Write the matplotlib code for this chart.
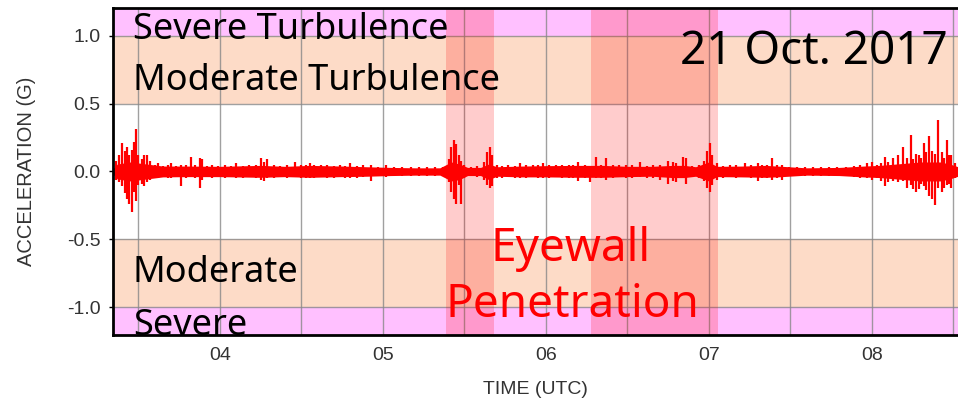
import matplotlib
matplotlib.use("Agg")
from matplotlib import pyplot as plt
from matplotlib.ticker import MultipleLocator, FuncFormatter

# time axis (hours UTC), acceleration in G
x_range = (3.344, 8.53)
y_range = (-1.205, 1.205)

# turbulence bands (G)
severe_band = 1.0
moderate_band = 0.5

# eyewall penetrations (hours UTC)
eyewall_start = [5.39, 6.28]
eyewall_end = [5.68, 7.06]

# dense core of the trace: time, upper and lower edge
core_t = [3.344, 3.37, 3.45, 3.55, 3.65, 3.8, 4.0, 4.25, 4.4, 4.55, 4.75, 4.9,
          5.05, 5.2, 5.35, 5.42, 5.47, 5.52, 5.6, 5.65, 5.7, 5.85, 6.0, 6.2,
          6.35, 6.5, 6.65, 6.78, 6.85, 6.92, 7.0, 7.05, 7.2, 7.35, 7.45, 7.6,
          7.8, 7.95, 8.05, 8.15, 8.3, 8.42, 8.48, 8.53]
core_hi = [0.02, 0.055, 0.07, 0.055, 0.04, 0.04, 0.038, 0.045, 0.038, 0.045, 0.04, 0.035,
           0.03, 0.027, 0.027, 0.07, 0.055, 0.03, 0.03, 0.055, 0.035, 0.04, 0.043, 0.045,
           0.045, 0.038, 0.038, 0.045, 0.045, 0.035, 0.07, 0.038, 0.04, 0.045, 0.038, 0.027,
           0.03, 0.04, 0.045, 0.055, 0.07, 0.07, 0.055, 0.035]
core_lo = [-0.02, -0.055, -0.07, -0.055, -0.04, -0.038, -0.038, -0.043, -0.038, -0.043, -0.038, -0.035,
           -0.03, -0.027, -0.027, -0.07, -0.06, -0.03, -0.03, -0.06, -0.035, -0.04, -0.04, -0.043,
           -0.043, -0.038, -0.035, -0.045, -0.045, -0.035, -0.07, -0.038, -0.04, -0.043, -0.038, -0.027,
           -0.03, -0.04, -0.045, -0.055, -0.07, -0.07, -0.055, -0.035]

# individual excursions: time, peak up, peak down
spike_t = [3.36, 3.38, 3.40, 3.415, 3.43, 3.445, 3.46, 3.475, 3.485, 3.50, 3.52, 3.535,
           3.55, 3.57, 3.60, 3.62, 3.65, 3.68, 3.70, 3.73, 3.76, 3.79, 3.82, 3.85,
           3.875, 3.89, 3.92, 3.95, 3.99, 4.03, 4.07, 4.1, 4.14, 4.18, 4.22, 4.25,
           4.27, 4.29, 4.33, 4.37, 4.41, 4.46, 4.5, 4.53, 4.55, 4.58, 4.62, 4.66,
           4.7, 4.74, 4.77, 4.80, 4.84, 4.88, 4.93, 4.97, 5.02, 5.07, 5.12, 5.17,
           5.22, 5.27, 5.32, 5.37, 5.405, 5.42, 5.435, 5.45, 5.465, 5.48, 5.5, 5.54,
           5.58, 5.62, 5.64, 5.655, 5.67, 5.7, 5.73, 5.77, 5.81, 5.84, 5.88, 5.92,
           5.95, 5.98, 6.02, 6.06, 6.1, 6.14, 6.17, 6.20, 6.24, 6.27, 6.31, 6.34,
           6.37, 6.41, 6.45, 6.49, 6.53, 6.58, 6.62, 6.66, 6.7, 6.75, 6.78, 6.80,
           6.84, 6.86, 6.9, 6.94, 6.97, 6.99, 7.005, 7.02, 7.05, 7.09, 7.13, 7.17,
           7.22, 7.26, 7.30, 7.33, 7.36, 7.39, 7.42, 7.45, 7.49, 7.54, 7.59, 7.64,
           7.69, 7.74, 7.79, 7.84, 7.89, 7.93, 7.97, 8.0, 8.03, 8.06, 8.08, 8.1,
           8.13, 8.16, 8.19, 8.215, 8.24, 8.255, 8.27, 8.29, 8.305, 8.32, 8.335, 8.35,
           8.37, 8.39, 8.41, 8.43, 8.445, 8.46, 8.475, 8.49, 8.51]
spike_hi = [0.08, 0.12, 0.21, 0.15, 0.18, 0.12, 0.16, 0.22, 0.31, 0.12, 0.09, 0.125,
            0.12, 0.08, 0.05, 0.06, 0.04, 0.05, 0.06, 0.04, 0.05, 0.05, 0.11, 0.045,
            0.10, 0.09, 0.04, 0.05, 0.04, 0.045, 0.04, 0.06, 0.04, 0.05, 0.045, 0.10,
            0.07, 0.09, 0.045, 0.04, 0.05, 0.07, 0.045, 0.05, 0.06, 0.05, 0.045, 0.05,
            0.04, 0.045, 0.04, 0.06, 0.04, 0.045, 0.05, 0.035, 0.05, 0.035, 0.03, 0.035,
            0.03, 0.035, 0.03, 0.035, 0.09, 0.18, 0.235, 0.20, 0.12, 0.08, 0.05, 0.035,
            0.04, 0.07, 0.14, 0.18, 0.12, 0.05, 0.04, 0.045, 0.04, 0.06, 0.045, 0.05,
            0.045, 0.06, 0.05, 0.045, 0.05, 0.045, 0.05, 0.07, 0.05, 0.04, 0.11, 0.05,
            0.10, 0.045, 0.05, 0.045, 0.05, 0.07, 0.04, 0.045, 0.05, 0.08, 0.07, 0.06,
            0.11, 0.10, 0.04, 0.045, 0.08, 0.15, 0.21, 0.12, 0.06, 0.04, 0.045, 0.045,
            0.06, 0.045, 0.06, 0.05, 0.05, 0.10, 0.05, 0.05, 0.035, 0.035, 0.03, 0.035,
            0.03, 0.035, 0.03, 0.035, 0.04, 0.045, 0.06, 0.07, 0.05, 0.06, 0.11, 0.07,
            0.10, 0.12, 0.18, 0.10, 0.27, 0.09, 0.13, 0.12, 0.10, 0.21, 0.14, 0.26,
            0.15, 0.13, 0.38, 0.14, 0.10, 0.23, 0.12, 0.12, 0.06]
spike_lo = [-0.06, -0.08, -0.11, -0.16, -0.20, -0.24, -0.30, -0.15, -0.22, -0.10, -0.09, -0.11,
            -0.08, -0.06, -0.045, -0.05, -0.04, -0.045, -0.05, -0.04, -0.11, -0.045, -0.04, -0.05,
            -0.12, -0.06, -0.04, -0.05, -0.04, -0.045, -0.04, -0.05, -0.045, -0.04, -0.05, -0.06,
            -0.07, -0.05, -0.045, -0.04, -0.045, -0.04, -0.05, -0.045, -0.05, -0.045, -0.04, -0.05,
            -0.045, -0.04, -0.045, -0.05, -0.045, -0.04, -0.07, -0.035, -0.04, -0.035, -0.03, -0.035,
            -0.03, -0.035, -0.03, -0.035, -0.08, -0.15, -0.20, -0.24, -0.10, -0.24, -0.05, -0.035,
            -0.04, -0.06, -0.10, -0.12, -0.11, -0.05, -0.045, -0.04, -0.045, -0.05, -0.045, -0.04,
            -0.05, -0.05, -0.045, -0.04, -0.045, -0.05, -0.045, -0.07, -0.045, -0.08, -0.05, -0.045,
            -0.06, -0.045, -0.04, -0.045, -0.05, -0.04, -0.045, -0.05, -0.06, -0.09, -0.07, -0.08,
            -0.05, -0.09, -0.04, -0.045, -0.07, -0.12, -0.15, -0.10, -0.06, -0.045, -0.04, -0.045,
            -0.04, -0.05, -0.07, -0.045, -0.05, -0.06, -0.045, -0.06, -0.035, -0.03, -0.035, -0.03,
            -0.035, -0.03, -0.035, -0.035, -0.04, -0.05, -0.05, -0.06, -0.05, -0.07, -0.11, -0.08,
            -0.07, -0.08, -0.07, -0.12, -0.10, -0.13, -0.15, -0.13, -0.09, -0.11, -0.14, -0.18,
            -0.20, -0.25, -0.12, -0.15, -0.12, -0.10, -0.09, -0.12, -0.05]

label_font = 'Liberation Sans'
note_font = 'Noto Sans'

fig = plt.figure(figsize=(9.58, 4.01), dpi=100)
ax = fig.add_axes([0.118, 0.1646, 0.882, 0.8155])

# turbulence bands
ax.axhspan(severe_band, y_range[1], color='#ffc0ff', lw=0, zorder=0.2)
ax.axhspan(y_range[0], -severe_band, color='#ffc0ff', lw=0, zorder=0.2)
ax.axhspan(moderate_band, severe_band, color='#fddbc7', lw=0, zorder=0.2)
ax.axhspan(-severe_band, -moderate_band, color='#fddbc7', lw=0, zorder=0.2)

# eyewall shading
for s, e in zip(eyewall_start, eyewall_end):
    ax.axvspan(s, e, color='red', alpha=0.2, lw=0, zorder=0.8)

# acceleration trace
ax.fill_between(core_t, core_lo, core_hi, color='red', lw=0, zorder=2)
ax.vlines(spike_t, spike_lo, spike_hi, color='red', lw=1.6, zorder=2)

ax.set_xlim(*x_range)
ax.set_ylim(*y_range)
ax.xaxis.set_major_locator(MultipleLocator(1))
ax.xaxis.set_minor_locator(MultipleLocator(0.5))
ax.yaxis.set_major_locator(MultipleLocator(0.5))
ax.xaxis.set_major_formatter(FuncFormatter(lambda v, p: '%02d' % round(v)))
ax.yaxis.set_major_formatter(FuncFormatter(lambda v, p: '%.1f' % v))
ax.set_axisbelow(True)
ax.grid(which='both', axis='x', color='#888888', lw=1.0, alpha=0.8)
ax.grid(which='major', axis='y', color='#888888', lw=1.0, alpha=0.8)

for side in ['left', 'bottom', 'top']:
    ax.spines[side].set_linewidth(2)
ax.spines['right'].set_visible(False)
ax.tick_params(axis='x', which='both', length=0, pad=9, labelsize=14, labelcolor='#333333')
ax.tick_params(axis='y', length=3, width=1, pad=6, labelsize=14, labelcolor='#333333')
for lbl in ax.get_xticklabels() + ax.get_yticklabels():
    lbl.set_fontfamily(label_font)

ax.set_xlabel('TIME (UTC)', fontsize=14, color='#333333', family=label_font, labelpad=12)
ax.set_ylabel('ACCELERATION (G)', fontsize=14.5, color='#333333', family=label_font, labelpad=22)

# annotations
ax.text(3.466, 0.978, 'Severe Turbulence', fontsize=26, family=note_font, va='baseline', zorder=3)
ax.text(3.466, 0.603, 'Moderate Turbulence', fontsize=26, family=note_font, va='baseline', zorder=3)
ax.text(3.466, -0.816, 'Moderate', fontsize=26, family=note_font, va='baseline', zorder=3)
ax.text(3.466, -1.206, 'Severe', fontsize=26, family=note_font, va='baseline', zorder=3, clip_on=True)
ax.text(8.466, 0.794, '21 Oct. 2017', fontsize=33, family=note_font, va='baseline', ha='right', zorder=3)
ax.text(6.153, -0.662, 'Eyewall', fontsize=33, color='red', family=note_font,
        va='baseline', ha='center', zorder=3)
ax.text(6.165, -1.07, 'Penetration', fontsize=33, color='red', family=note_font,
        va='baseline', ha='center', zorder=3)

plt.savefig('out.png', dpi=100)
